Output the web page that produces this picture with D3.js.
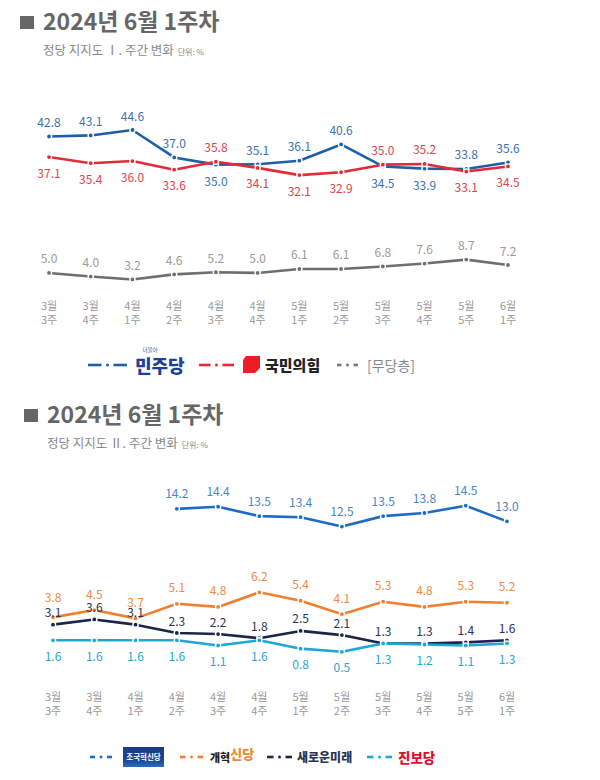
<!DOCTYPE html>
<html><head><meta charset="utf-8">
<script src="https://cdn.jsdelivr.net/npm/d3@7"></script>
<style>body{margin:0;background:#fff}svg{display:block}text{font-family:"Noto Sans CJK KR","Noto Sans",sans-serif}</style>
</head><body>
<script>
const months = ["3월","3월","4월","4월","4월","4월","5월","5월","5월","5월","5월","6월"];
const weeks  = ["3주","4주","1주","2주","3주","4주","1주","2주","3주","4주","5주","1주"];
const minju  = [42.8,43.1,44.6,37.0,35.0,35.1,36.1,40.6,34.5,33.9,33.8,35.6];
const ppp    = [37.1,35.4,36.0,33.6,35.8,34.1,32.1,32.9,35.0,35.2,33.1,34.5];
const nonpart= [5.0,4.0,3.2,4.6,5.2,5.0,6.1,6.1,6.8,7.6,8.7,7.2];
const minjuPos = ["a","a","a","a","b","a","a","a","b","b","a","a"];
const pppPos   = ["b","b","b","b","a","b","b","b","a","a","b","b"];
const josguk = [null,null,null,14.2,14.4,13.5,13.4,12.5,13.5,13.8,14.5,13.0];
const gaehyuk= [3.8,4.5,3.7,5.1,4.8,6.2,5.4,4.1,5.3,4.8,5.3,5.2];
const saero  = [3.1,3.6,3.1,2.3,2.2,1.8,2.5,2.1,1.3,1.3,1.4,1.6];
const jinbo  = [1.6,1.6,1.6,1.6,1.1,1.6,0.8,0.5,1.3,1.2,1.1,1.3];

const svg = d3.select("body").append("svg").attr("width",600).attr("height",780);
const idx = d3.range(months.length);

function title(y0, sub, sx){
  svg.append("rect").attr("x",sx).attr("y",y0-12).attr("width",14).attr("height",13).attr("fill","#666");
  svg.append("text").attr("x",sx+23).attr("y",y0+2).attr("font-size",23).attr("font-weight",700).attr("fill","#666").text("2024년 6월 1주차");
  const t = svg.append("text").attr("x",sx+23).attr("y",y0+27).attr("font-size",12.5).attr("fill","#888");
  t.append("tspan").text(sub);
  t.append("tspan").attr("font-size",8).attr("dx",4).text("단위: %");
}
title(28, "정당 지지도 Ⅰ. 주간 변화", 20);
title(421, "정당 지지도 Ⅱ. 주간 변화", 24);

function drawSeries(g, x, y, vals, color, labelColor, posFn, offA, offB){
  const line = d3.line().defined(d=>d.v!=null).x(d=>x(d.i)).y(d=>y(d.v));
  const data = vals.map((v,i)=>({i,v}));
  g.append("path").datum(data).attr("d",line).attr("fill","none").attr("stroke",color).attr("stroke-width",2.6).attr("stroke-linejoin","round");
  const pts = data.filter(d=>d.v!=null);
  g.selectAll(null).data(pts).join("circle").attr("cx",d=>x(d.i)).attr("cy",d=>y(d.v)).attr("r",2.6).attr("fill",color).attr("stroke","#fff").attr("stroke-width",1.4);
  g.selectAll(null).data(pts).join("text").attr("x",d=>x(d.i)).attr("y",d=>posFn(d.i)==="a"? y(d.v)-(typeof offA==="function"?offA(d.i):offA) : y(d.v)+offB)
    .attr("text-anchor","middle").attr("dominant-baseline","central").attr("font-size",12).attr("fill",labelColor).text(d=>d.v.toFixed(1));
}

// top chart
const x1 = d3.scalePoint().domain(idx).range([49,508]);
const y1 = d3.scaleLinear().domain([0,44.6]).range([291,130]);
const g1 = svg.append("g");
drawSeries(g1,x1,y1,nonpart,"#6e6e6e","#9a9a9a",()=>"a",15,15);
drawSeries(g1,x1,y1,minju,"#1f5fa8","#3c71ad",i=>minjuPos[i],15,16);
drawSeries(g1,x1,y1,ppp,"#e32b37","#e0434d",i=>pppPos[i],15,15);

function xlabels(x, yM){
  const g = svg.append("g");
  g.selectAll(null).data(idx).join("text").attr("x",i=>x(i)).attr("y",yM).attr("text-anchor","middle").attr("font-size",11).attr("fill","#999").text(i=>months[i]);
  g.selectAll(null).data(idx).join("text").attr("x",i=>x(i)).attr("y",yM+14).attr("text-anchor","middle").attr("font-size",11).attr("fill","#999").text(i=>weeks[i]);
}
xlabels(x1, 310);

function legendMark(xs, y, w, color){
  const d = (w-8)/2;
  svg.append("line").attr("x1",xs).attr("x2",xs+d-2).attr("y1",y).attr("y2",y).attr("stroke",color).attr("stroke-width",2.6);
  svg.append("circle").attr("cx",xs+w/2).attr("cy",y).attr("r",1.5).attr("fill",color);
  svg.append("line").attr("x1",xs+w-d+2).attr("x2",xs+w).attr("y1",y).attr("y2",y).attr("stroke",color).attr("stroke-width",2.6);
}
// top legend
legendMark(88,365,39,"#1f5fa8");
svg.append("text").attr("x",150).attr("y",352).attr("font-size",5.5).attr("fill","#1f5fa8").attr("text-anchor","middle").text("더불어");
svg.append("text").attr("x",135).attr("y",373).attr("font-size",18).attr("font-weight",900).attr("fill","#1d3f98").text("민주당");
legendMark(199,365,35,"#e32b37");
svg.append("path").attr("d","M246,356 L260,356 L260,368 L255,373 L243,373 L243,360 Z").attr("fill","#ee1c25");
svg.append("text").attr("x",265).attr("y",371).attr("font-size",15).attr("font-weight",900).attr("fill","#222").text("국민의힘");
legendMark(337,365,21,"#777");
svg.append("text").attr("x",367).attr("y",371).attr("font-size",14).attr("fill","#888").text("[무당층]");

// bottom chart
const x2 = d3.scalePoint().domain(idx).range([53,507]);
const y2 = d3.scaleLinear().domain([0,14.5]).range([657,505.7]);
const g2 = svg.append("g");
drawSeries(g2,x2,y2,josguk,"#1c6cc7","#4a86c5",()=>"a",16,15);
drawSeries(g2,x2,y2,gaehyuk,"#f0802f","#f08a3e",()=>"a",i=>i===0?21:17,15);
drawSeries(g2,x2,y2,saero,"#1b2647","#2a3350",()=>"a",13,15);
drawSeries(g2,x2,y2,jinbo,"#1ba8d8","#27a6d6",()=>"b",15,15);
xlabels(x2, 701);

// bottom legend
legendMark(90,757,22,"#1c6cc7");
const lg = svg.append("defs").append("linearGradient").attr("id","jg").attr("x1",0).attr("x2",0).attr("y1",0).attr("y2",1);
lg.append("stop").attr("offset","0%").attr("stop-color","#1a3a80");
lg.append("stop").attr("offset","70%").attr("stop-color","#1c4a98");
lg.append("stop").attr("offset","100%").attr("stop-color","#2a6cc8");
svg.append("rect").attr("x",123).attr("y",747).attr("width",41).attr("height",20).attr("fill","url(#jg)");
svg.append("text").attr("x",143.5).attr("y",760).attr("text-anchor","middle").attr("font-size",7.5).attr("font-weight",700).attr("fill","#fff").text("조국혁신당");
legendMark(180,757,23,"#f0802f");
const gt = svg.append("text").attr("x",210).attr("y",762).attr("font-size",13).attr("font-weight",900);
gt.append("tspan").attr("fill","#222").attr("font-size",11).text("개혁");
gt.append("tspan").attr("fill","#f08a2e").attr("dy",-3).text("신당");
legendMark(267,757,25,"#1b2647");
svg.append("text").attr("x",297).attr("y",762).attr("font-size",12).attr("font-weight",900).attr("fill","#2a3350").text("새로운미래");
legendMark(367,757,25,"#1ba8d8");
svg.append("text").attr("x",398).attr("y",763).attr("font-size",13.5).attr("font-weight",900).attr("fill","#e0102a").text("진보당");
</script>
</body></html>
